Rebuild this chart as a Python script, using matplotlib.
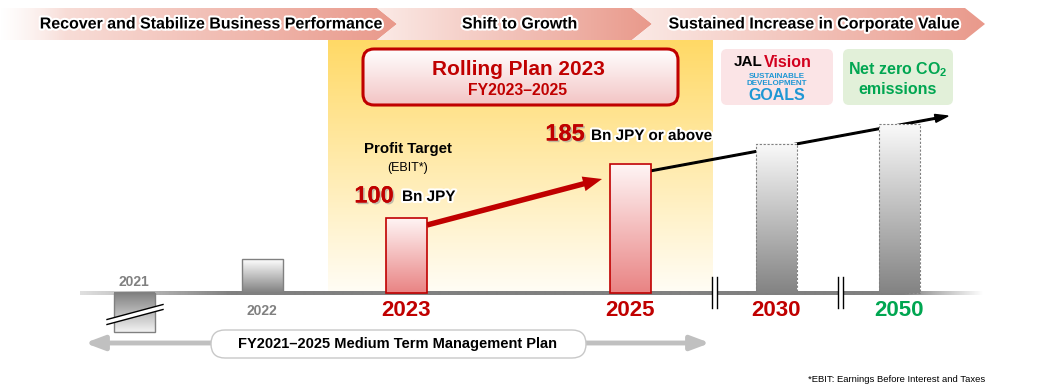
import numpy as np
import matplotlib.pyplot as plt
import matplotlib.patheffects as pe
from matplotlib.patches import Polygon, Rectangle, FancyBboxPatch, FancyArrow
from matplotlib.colors import to_rgb

plt.rcParams['font.family'] = ['Liberation Sans', 'DejaVu Sans']
plt.rcParams['mathtext.fontset'] = 'custom'
plt.rcParams['mathtext.rm'] = 'Liberation Sans'
plt.rcParams['mathtext.bf'] = 'Liberation Sans:bold'

# data (bar heights as drawn, relative to FY2023 = 100)
years = ['2021', '2022', '2023', '2025', '2030', '2050']
bar_height = [-52, 45, 100, 172, 199, 225]
bar_kind = ['past', 'past', 'plan', 'plan', 'vision', 'vision']
phases = ['Recover and Stabilize Business Performance', 'Shift to Growth',
          'Sustained Increase in Corporate Value']
targets = ['100', '185']
target_units = ['Bn JPY', 'Bn JPY or above']

# layout (pixels)
W, H = 1040, 392
BASE = 293
x_pos = [134, 262, 406, 630, 776, 899]
BAR_W = 41
RED = '#C00000'
GREEN = '#00A651'
GRAY = '#808080'

fig = plt.figure(figsize=(W / 100, H / 100), dpi=100)
ax = fig.add_axes([0, 0, 1, 1], zorder=1)
bx = fig.add_axes([0, 0, 1, 1], zorder=2)
bx.patch.set_alpha(0)


def grad(axis, extent, c0, c1, horizontal=False, z=1, clip=None, alpha=None):
    """linear gradient image, c0 at top/left, c1 at bottom/right"""
    t = np.linspace(0, 1, 256)[:, None]
    img = np.array(to_rgb(c0)) + (np.array(to_rgb(c1)) - np.array(to_rgb(c0))) * t
    if alpha is not None:
        img = np.concatenate([img, np.asarray(alpha)[:, None]], axis=1)
    img = img[None, :, :] if horizontal else img[:, None, :]
    im = axis.imshow(img, extent=extent, aspect='auto', zorder=z,
                     interpolation='bilinear')
    if clip is not None:
        axis.add_patch(clip)
        im.set_clip_path(clip)
    return im


glow = [pe.withStroke(linewidth=3, foreground='white')]
shadow = [pe.withSimplePatchShadow(offset=(1.2, -1.2), shadow_rgbFace='#999999', alpha=0.6), pe.Normal()]

# ---- top chevrons
chev = [(0, 377, False), (377, 632, True), (632, 965, True)]
centers = [212, 520, 815]
for (xl, xb, notch), cx, txt in zip(chev, centers, phases):
    pts = [(xl, 8), (xb, 8), (xb + 20, 24), (xb, 40), (xl, 40)]
    if notch:
        pts.append((xl + 20, 24))
    poly = Polygon(pts, closed=True, fc='none', ec='none')
    a = None
    if not notch:
        a = np.clip(np.linspace(0, 1, 256) * 6, 0, 1)
    grad(ax, (xl, xb + 20, 40, 8), '#FBEAE6', '#E9998B', horizontal=True, z=2,
         clip=poly, alpha=a)
    ax.text(cx, 24, txt, ha='center', va='center', fontsize=11.5, weight='bold',
            color='black', zorder=5, path_effects=glow)

# ---- yellow band for rolling plan
grad(ax, (328, 713, BASE, 40), '#FFD966', '#FFFDF6', z=1)

# rolling plan box
box = FancyBboxPatch((363, 49), 315, 56, boxstyle='round,pad=0,rounding_size=11',
                     fc='none', ec='none')
grad(ax, (363, 678, 105, 49), '#FFFFFF', '#F3C4C4', z=3, clip=box)
ax.add_patch(FancyBboxPatch((363, 49), 315, 56, boxstyle='round,pad=0,rounding_size=11',
                            fc='none', ec=RED, lw=2.2, zorder=4))
ax.text(518, 69, 'Rolling Plan 2023', ha='center', va='center', fontsize=15,
        weight='bold', color=RED, zorder=5)
ax.text(518, 90, 'FY2023–2025', ha='center', va='center', fontsize=11.3,
        weight='bold', color=RED, zorder=5)

# JAL Vision box
ax.add_patch(FancyBboxPatch((721, 49), 112, 56, boxstyle='round,pad=0,rounding_size=6',
                            fc='#FBE4E6', ec='none', zorder=2))
ax.text(762, 62, 'JAL', ha='right', va='center', fontsize=11, weight='bold',
        color='black', zorder=5)
ax.text(764, 62, 'Vision', ha='left', va='center', fontsize=11.5, weight='bold',
        color='#D2001E', zorder=5)
ax.text(777, 76.5, 'SUSTAINABLE', ha='center', va='center', fontsize=5.8,
        weight='bold', color='#1F97D4', zorder=5)
ax.text(777, 83, 'DEVELOPMENT', ha='center', va='center', fontsize=5.8,
        weight='bold', color='#1F97D4', zorder=5)
ax.text(777, 95, 'GOALS', ha='center', va='center', fontsize=11.5,
        weight='bold', color='#1F97D4', zorder=5)

# Net zero box
ax.add_patch(FancyBboxPatch((843, 49), 110, 56, boxstyle='round,pad=0,rounding_size=6',
                            fc='#E2F0D9', ec='none', zorder=2))
ax.text(898, 70, r'Net zero CO$_\mathbf{2}$', ha='center', va='center', fontsize=11.5,
        weight='bold', color=GREEN, zorder=5)
ax.text(898, 89, 'emissions', ha='center', va='center', fontsize=11.5,
        weight='bold', color=GREEN, zorder=5)

# ---- baseline
alpha = np.interp(np.linspace(80, 985, 256), [80, 230, 905, 985], [0.25, 1, 1, 0])
grad(ax, (80, 985, BASE + 1.6, BASE - 1.6), GRAY, GRAY, horizontal=True, z=3, alpha=alpha)
for bxk in [714, 840]:
    ax.add_patch(Rectangle((bxk - 2.5, BASE - 4), 5, 8, fc='white', ec='none', zorder=4))
    for dx in (-2.5, 2.5):
        ax.plot([bxk + dx, bxk + dx], [277, 308], color='black', lw=1, zorder=5)

# ---- arrows
ax.add_patch(FancyArrow(650, 171, 298, -55, width=1.6, head_width=8, head_length=13,
                        length_includes_head=True, color='black', zorder=3))
ax.add_patch(FancyArrow(427, 225, 175, -46, width=5.5, head_width=15, head_length=19,
                        length_includes_head=True, color=RED, ec='none', zorder=3))

# ---- bars
scale = 0.75  # px per unit
lo = -(H - BASE) / scale
bx.set_xlim(0, W)
bx.set_ylim(lo, lo + H / scale)
styles = {
    'past': dict(ec=GRAY, ls='-', lw=1.0),
    'plan': dict(ec=RED, ls='-', lw=1.2),
    'vision': dict(ec=GRAY, ls=(0, (2, 1.5)), lw=0.8),
}
fills = {'past': ('#FFFFFF', '#7F7F7F'), 'plan': ('#FFF6F6', '#E98383'),
         'vision': ('#FAFAFA', '#838383')}
bars = bx.bar(x_pos, bar_height, width=BAR_W, fill=False, zorder=4)
for rect, kind, h in zip(bars, bar_kind, bar_height):
    rect.set_edgecolor(styles[kind]['ec'])
    rect.set_linestyle(styles[kind]['ls'])
    rect.set_linewidth(styles[kind]['lw'])
    x0, w = rect.get_x(), rect.get_width()
    c0, c1 = fills[kind]
    if h < 0:
        c0, c1 = '#7F7F7F', '#F2F2F2'
    grad(bx, (x0, x0 + w, min(0, h), max(0, h)), c0, c1, z=3)

# break mark on the FY2021 bar
band = [(107, 319.5), (163, 304.5), (163, 309.5), (107, 324.5)]
bx.add_patch(Polygon(band, closed=True, fc='white', ec='none', zorder=5,
                     transform=ax.transData))
for off in (-2.5, 2.5):
    bx.plot([107, 163], [322 + off, 307 + off], color='black', lw=1, zorder=6,
            transform=ax.transData)

# ---- year labels
ax.text(x_pos[0], 282, years[0], ha='center', va='center', fontsize=10,
        weight='bold', color=GRAY, zorder=5)
ax.text(x_pos[1], 311, years[1], ha='center', va='center', fontsize=10,
        weight='bold', color=GRAY, zorder=5)
for xp, yr in zip(x_pos[2:], years[2:]):
    ax.text(xp, 311, yr, ha='center', va='center', fontsize=16, weight='bold',
            color=GREEN if yr == '2050' else RED, zorder=5)

# ---- target annotations
ax.text(408, 149, 'Profit Target', ha='center', va='center', fontsize=10.8,
        weight='bold', color='black', zorder=5)
ax.text(408, 168, '(EBIT*)', ha='center', va='center', fontsize=9,
        color='black', zorder=5)
ax.text(374, 196, targets[0], ha='center', va='center', fontsize=17, weight='bold',
        color=RED, zorder=5, path_effects=shadow)
ax.text(402, 197, target_units[0], ha='left', va='center', fontsize=11, weight='bold',
        color='black', zorder=5, path_effects=glow)
ax.text(565, 134, targets[1], ha='center', va='center', fontsize=17, weight='bold',
        color=RED, zorder=5, path_effects=shadow)
ax.text(591, 136, target_units[1], ha='left', va='center', fontsize=11, weight='bold',
        color='black', zorder=5, path_effects=glow)

# ---- medium term plan arrow
ax.annotate('', xy=(710, 343), xytext=(85, 343),
            arrowprops=dict(arrowstyle='<|-|>,head_length=0.8,head_width=0.3',
                            mutation_scale=14, color='#C0C0C0', lw=3.5,
                            shrinkA=0, shrinkB=0), zorder=2)
ax.add_patch(FancyBboxPatch((211, 330), 375, 28, boxstyle='round,pad=0,rounding_size=14',
                            fc='white', ec='#C8C8C8', lw=1, zorder=3))
ax.text(398, 344, 'FY2021–2025 Medium Term Management Plan', ha='center', va='center',
        fontsize=10.5, weight='bold', color='black', zorder=5)

ax.text(985, 379, '*EBIT: Earnings Before Interest and Taxes', ha='right', va='center',
        fontsize=6.8, color='black', zorder=5)

ax.set_xlim(0, W)
ax.set_ylim(H, 0)
ax.axis('off')
bx.axis('off')
fig.savefig('out.png', dpi=100)
